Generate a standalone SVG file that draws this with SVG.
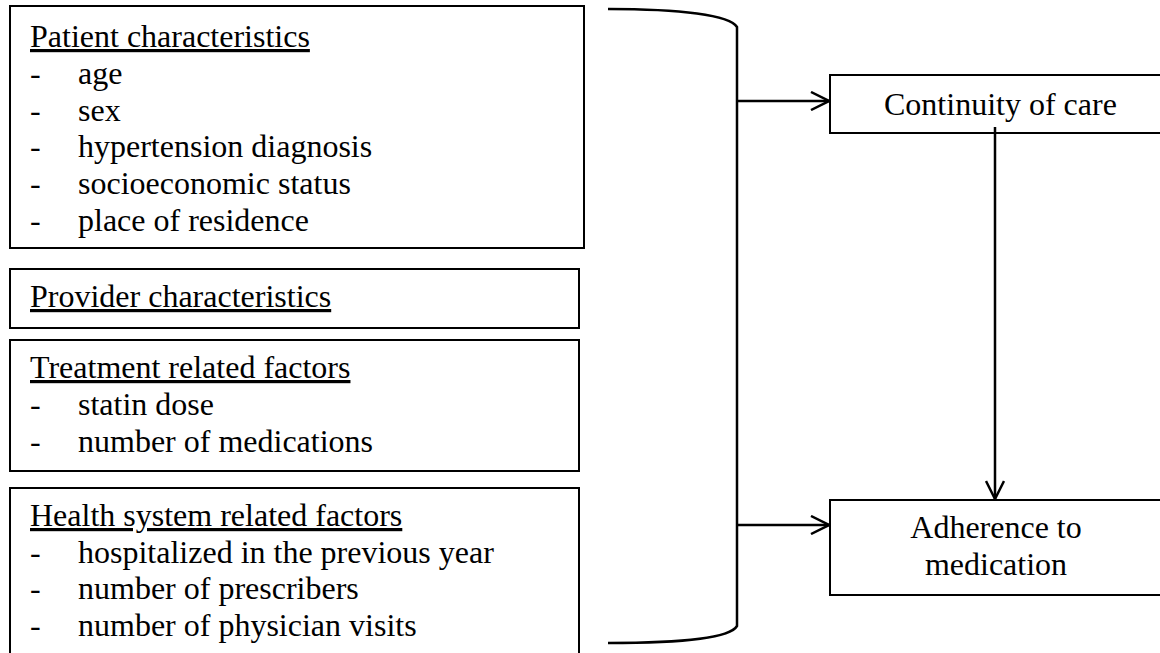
<svg xmlns="http://www.w3.org/2000/svg" width="1160" height="653" viewBox="0 0 1160 653">
  <style>
    .box { fill: #ffffff; stroke: #000000; stroke-width: 2; }
    .t { font-family: "Liberation Serif", "Times New Roman", serif; font-size: 32px; fill: #000000; }
    .h { text-decoration: underline; }
    .mid { text-anchor: middle; }
    .wire { fill: none; stroke: #000000; stroke-width: 2.5; }
  </style>
  <defs>
    <marker id="open-arrow" viewBox="0 0 20 20" refX="19" refY="10" markerWidth="20" markerHeight="20" markerUnits="userSpaceOnUse" orient="auto">
      <path d="M1,1 L19,10 L1,19" fill="none" stroke="#000000" stroke-width="2.5"/>
    </marker>
  </defs>

  <!-- Factor boxes -->
  <g id="patient-characteristics">
    <rect class="box" x="10" y="6" width="574" height="242"/>
    <text class="t h" x="30" y="47">Patient characteristics</text>
    <text class="t" x="30" y="84">-</text><text class="t" x="78" y="84">age</text>
    <text class="t" x="30" y="121">-</text><text class="t" x="78" y="121">sex</text>
    <text class="t" x="30" y="157">-</text><text class="t" x="78" y="157">hypertension diagnosis</text>
    <text class="t" x="30" y="194">-</text><text class="t" x="78" y="194">socioeconomic status</text>
    <text class="t" x="30" y="231">-</text><text class="t" x="78" y="231">place of residence</text>
  </g>

  <g id="provider-characteristics">
    <rect class="box" x="10" y="269" width="569" height="59"/>
    <text class="t h" x="30" y="307">Provider characteristics</text>
  </g>

  <g id="treatment-factors">
    <rect class="box" x="10" y="340" width="569" height="131"/>
    <text class="t h" x="30" y="378">Treatment related factors</text>
    <text class="t" x="30" y="415">-</text><text class="t" x="78" y="415">statin dose</text>
    <text class="t" x="30" y="452">-</text><text class="t" x="78" y="452">number of medications</text>
  </g>

  <g id="health-system-factors">
    <rect class="box" x="10" y="488" width="569" height="180"/>
    <text class="t h" x="30" y="526">Health system related factors</text>
    <text class="t" x="30" y="563">-</text><text class="t" x="78" y="563">hospitalized in the previous year</text>
    <text class="t" x="30" y="599">-</text><text class="t" x="78" y="599">number of prescribers</text>
    <text class="t" x="30" y="636">-</text><text class="t" x="78" y="636">number of physician visits</text>
  </g>

  <!-- Outcome boxes (right side runs past the page edge) -->
  <g id="continuity-of-care">
    <rect class="box" x="830" y="75" width="340" height="58"/>
    <text class="t" x="884" y="115">Continuity of care</text>
  </g>

  <g id="adherence-to-medication">
    <rect class="box" x="830" y="500" width="340" height="95"/>
    <text class="t mid" x="996" y="538">Adherence to</text>
    <text class="t mid" x="996" y="575">medication</text>
  </g>

  <!-- Connectors -->
  <g id="connectors">
    <path class="wire" d="M608,9 C680,9 730,15 737,27 L737,626 C730,638 680,643 608,643"/>
    <line class="wire" x1="737" y1="101" x2="829" y2="101" marker-end="url(#open-arrow)"/>
    <line class="wire" x1="737" y1="525" x2="829" y2="525" marker-end="url(#open-arrow)"/>
    <line class="wire" x1="995" y1="127" x2="995" y2="499" marker-end="url(#open-arrow)"/>
  </g>
</svg>
